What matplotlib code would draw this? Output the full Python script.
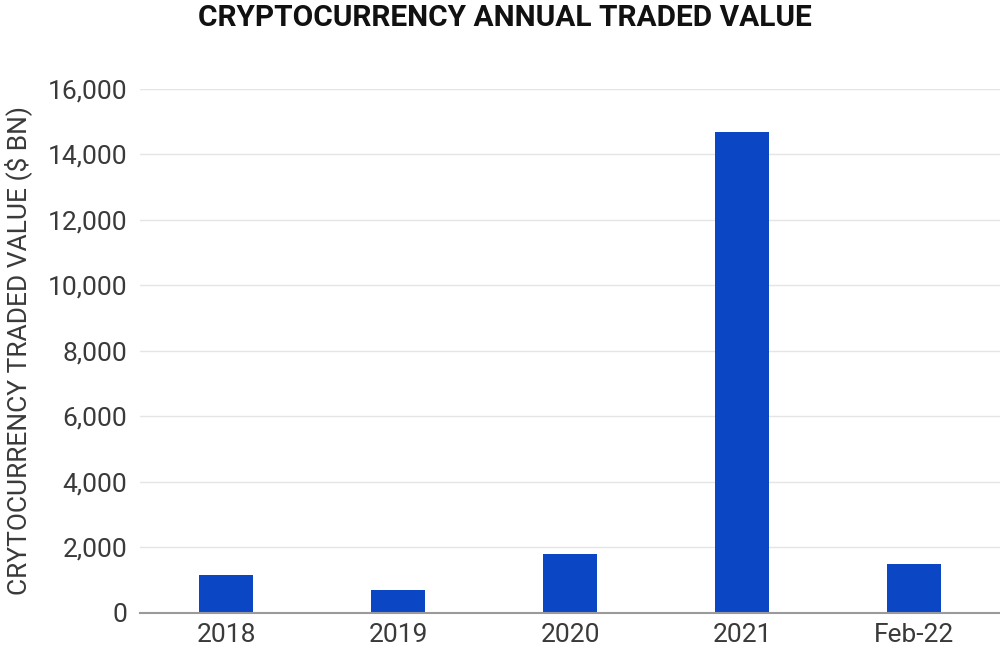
import matplotlib.pyplot as plt
from matplotlib.ticker import FuncFormatter

plt.rcParams['font.family'] = ['Roboto', 'DejaVu Sans']

# data
categories = ["2018", "2019", "2020", "2021", "Feb-22"]
traded_value = [1160, 710, 1800, 14700, 1490]

fig = plt.figure(figsize=(10, 6.54), dpi=100)
ax = fig.add_axes([0.14, 0.063, 0.86, 0.801])

ax.bar(range(len(categories)), traded_value, width=0.31, color="#0B47C5", zorder=3)

ax.set_xlim(-0.5, len(categories) - 0.5)
ax.set_ylim(0, 16000)
ax.set_yticks(range(0, 16001, 2000))
ax.yaxis.set_major_formatter(FuncFormatter(lambda v, p: f"{int(v):,}"))
ax.set_xticks(range(len(categories)))
ax.set_xticklabels(categories)

ax.grid(axis="y", color="#e5e5e5", linewidth=1, zorder=0)
for s in ["top", "right", "left"]:
    ax.spines[s].set_visible(False)
ax.spines["bottom"].set_color("#9a9a9a")
ax.spines["bottom"].set_linewidth(1.5)
ax.spines["bottom"].set_zorder(4)

ax.tick_params(axis="both", length=0, labelsize=19, labelcolor="#3a3a3a")
ax.tick_params(axis="x", pad=7)
ax.tick_params(axis="y", pad=9)

ax.set_ylabel("CRYTOCURRENCY TRADED VALUE ($ BN)", fontsize=19, color="#3a3a3a")
ax.yaxis.set_label_coords(-0.125, 0.5)

fig.text(0.505, 0.973, "CRYPTOCURRENCY ANNUAL TRADED VALUE", ha="center", va="center",
         fontsize=21.5, fontweight="bold", color="#111111")

plt.savefig("out.png", dpi=100)
